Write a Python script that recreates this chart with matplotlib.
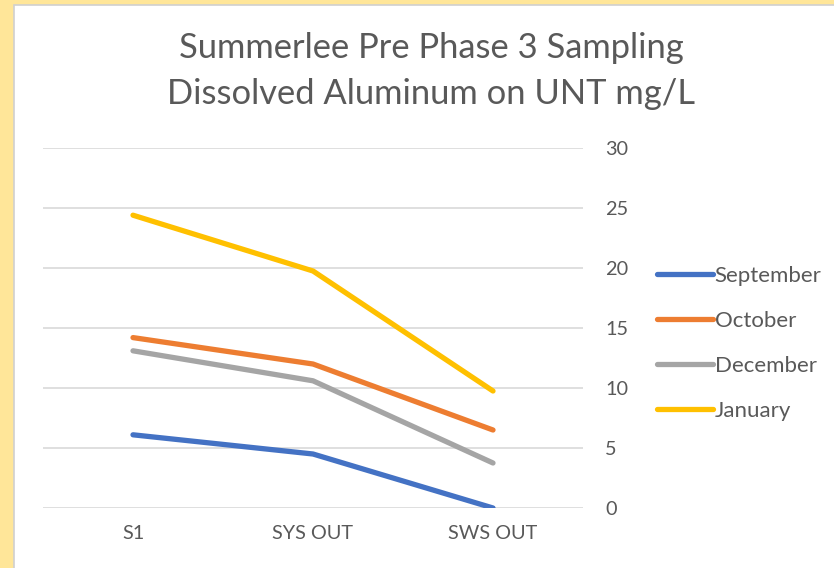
import matplotlib.pyplot as plt
from matplotlib.patches import Rectangle

# data
sites = ["S1", "SYS OUT", "SWS OUT"]
september = [6.1, 4.5, 0.0]
october = [14.2, 12.0, 6.5]
december = [13.1, 10.6, 3.75]
january = [24.4, 19.75, 9.75]
months = ["September", "October", "December", "January"]
colors = ["#4472C4", "#ED7D31", "#A5A5A5", "#FFC000"]
yticks = [0, 5, 10, 15, 20, 25, 30]

plt.rcParams['font.family'] = ['Lato', 'DejaVu Sans']
txt = "#595959"

W, H = 834, 568
fig = plt.figure(figsize=(W / 100, H / 100), dpi=100)
fig.patch.set_facecolor("#FFE699")

# white chart panel with thin grey border
panel = Rectangle((14 / W, -0.01), 1.0, 1 - 5 / H + 0.01, transform=fig.transFigure,
                  facecolor="white", edgecolor="#D0D0D0", linewidth=1.2, zorder=-10)
fig.patches.append(panel)

ax = fig.add_axes([43 / W, 1 - 508 / H, 540 / W, 360 / H])
ax.set_facecolor("none")

x = range(len(sites))
for vals, name, c in zip([september, october, december, january], months, colors):
    ax.plot(x, vals, color=c, linewidth=3.8, label=name, solid_capstyle="round",
            solid_joinstyle="round", zorder=3)

ax.set_xlim(-0.5, 2.5)
ax.set_ylim(0, 30)
ax.set_yticks(yticks)
ax.set_xticks(list(x))
ax.set_xticklabels(sites)
ax.yaxis.tick_right()
ax.grid(axis="y", color="#D9D9D9", linewidth=1.2)
ax.set_axisbelow(True)
for s in ax.spines.values():
    s.set_visible(False)
ax.tick_params(axis="both", length=0, colors=txt, labelsize=14.3)
ax.tick_params(axis="y", pad=16)
ax.tick_params(axis="x", pad=12)

fig.text(431 / W, 1 - 71 / H, "Summerlee Pre Phase 3 Sampling\nDissolved Aluminum on UNT mg/L",
         ha="center", va="center", fontsize=24.8, color=txt, linespacing=1.55)

leg = ax.legend(loc="center left", bbox_to_anchor=(657 / W, 1 - 343.5 / H),
                bbox_transform=fig.transFigure, frameon=False, fontsize=16,
                handlelength=2.5, handletextpad=0.1, labelspacing=1.13,
                borderpad=0, borderaxespad=0)
for t in leg.get_texts():
    t.set_color(txt)

fig.savefig("out.png", dpi=100)
